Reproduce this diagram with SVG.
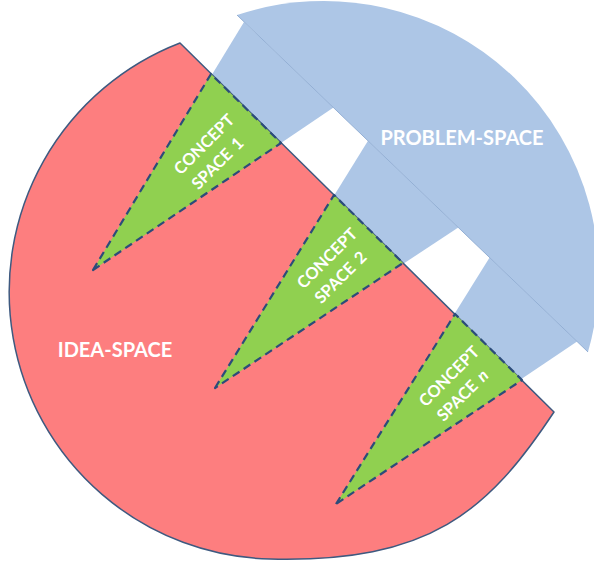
<svg xmlns="http://www.w3.org/2000/svg" width="594" height="562" viewBox="0 0 594 562">
<style>
.blue{fill:#adc6e6}
.chordline{stroke:#93afd4;stroke-width:1;fill:none}
.red{fill:#fd7e7f;stroke:#3e5a80;stroke-width:1.5;stroke-linejoin:round}
.green{fill:#90d050;stroke:#2c4c7a;stroke-width:2.2;stroke-dasharray:8 5;stroke-linejoin:round}
.lbl{font-family:Lato,"Open Sans","Liberation Sans",sans-serif;font-weight:700;fill:#ffffff}
.big{font-size:20px}
.small{font-size:16.5px;text-anchor:middle}
</style>
<rect width="594" height="562" fill="#ffffff"/>
<g id="problem-space">
  <path class="blue" d="M237,15 A275,275 0 0,1 588,352 Z"/>
  <polygon class="blue" points="93,270 244,22 333.5,107.6"/>
  <polygon class="blue" points="215,388 368,140.7 458.3,227.5"/>
  <polygon class="blue" points="336,504 489.6,257.5 577.1,341.5"/>
  <line class="chordline" x1="237" y1="15" x2="588" y2="352"/>
  <text class="lbl big" x="462" y="145" text-anchor="middle">PROBLEM-SPACE</text>
</g>
<g id="idea-space">
  <path class="red" d="M180,43 A267,267 0 0,0 270,559 C430,563 488,511.6 554,412 Z"/>
  <text class="lbl big" x="115" y="357" text-anchor="middle">IDEA-SPACE</text>
</g>
<g id="concept-space-1">
  <polygon class="green" points="93,270 211,74 281,143"/>
  <g transform="translate(211,154) rotate(-45)">
    <text class="lbl small" x="2" y="-6">CONCEPT</text>
    <text class="lbl small" x="-2" y="17">SPACE<tspan dx="6">1</tspan></text>
  </g>
</g>
<g id="concept-space-2">
  <polygon class="green" points="215,388 334,195 403,263"/>
  <g transform="translate(334,268) rotate(-45)">
    <text class="lbl small" x="2" y="-6">CONCEPT</text>
    <text class="lbl small" x="-2" y="17">SPACE<tspan dx="6">2</tspan></text>
  </g>
</g>
<g id="concept-space-n">
  <polygon class="green" points="336,504 455,314 522,380"/>
  <g transform="translate(456,386) rotate(-45)">
    <text class="lbl small" x="2" y="-6">CONCEPT</text>
    <text class="lbl small" x="-2" y="17">SPACE<tspan dx="6" font-style="italic">n</tspan></text>
  </g>
</g>
</svg>
